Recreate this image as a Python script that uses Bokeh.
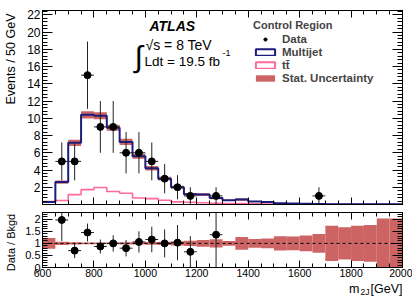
import math
from bokeh.plotting import figure
from bokeh.layouts import column, row
from bokeh.models import (ColumnDataSource, Label, Legend, LegendItem, Span,
                          FixedTicker, LinearAxis, Range1d, CustomLabelingPolicy)
from bokeh.embed import file_html
from bokeh.resources import INLINE

# ---------------- data ----------------
bin_edges = [600, 650, 700, 750, 800, 850, 900, 950, 1000, 1050, 1100, 1150, 1200,
             1250, 1300, 1350, 1400, 1450, 1500, 1550, 1600, 1650, 1700, 1750,
             1800, 1850, 1900, 1950, 2000]
multijet = [0.28, 2.6, 7.15, 10.4, 10.3, 8.9, 7.25, 5.6, 4.2, 3.0,
            2.0, 1.2, 1.15, 0.75, 0.5, 0.57, 0.35, 0.3, 0.15, 0.13,
            0.08, 0.07, 0.04, 0.04, 0.03, 0.03, 0.03, 0.02]
ttbar = [0.35, 0.47, 1.15, 1.72, 1.97, 1.5, 1.3, 0.75, 0.68, 0.49,
         0.3, 0.26, 0.2, 0.15, 0.1, 0.1, 0.07, 0.06, 0.05, 0.04,
         0.03, 0.03, 0.02, 0.02, 0.02, 0.01, 0.01, 0.01]
stat_rel = [0.22, 0.07, 0.05, 0.04, 0.04, 0.04, 0.05, 0.05, 0.06, 0.07,
            0.09, 0.11, 0.14, 0.17, 0.1, 0.26, 0.18, 0.2, 0.3, 0.28,
            0.33, 0.39, 0.73, 0.67, 0.73, 0.76, 1.03, 1.03]
data_x = [675, 725, 775, 825, 875, 925, 975, 1025, 1075, 1125, 1175, 1275, 1675]
data_y = [5, 5, 15, 9, 9, 6, 6, 5, 3, 2, 1, 1, 1]
data_err = [2.2, 2.2, 3.9, 3.0, 3.0, 2.4, 2.4, 2.2, 1.7, 1.4, 1.0, 1.0, 1.0]
ratio_x = [675, 725, 775, 825, 875, 925, 975, 1025, 1075, 1125, 1175, 1275]
ratio_y = [1.97, 0.70, 1.45, 0.87, 1.0, 0.80, 1.06, 1.16, 1.0, 1.03, 0.65, 1.36]
ratio_err = [0.87, 0.31, 0.37, 0.29, 0.34, 0.34, 0.44, 0.53, 0.58, 0.73, 0.65, 1.36]
x_ticks = [600, 800, 1000, 1200, 1400, 1600, 1800, 2000]
y_ticks_top = [2, 4, 6, 8, 10, 12, 14, 16, 18, 20, 22]
y_ticks_ratio = [0, 0.5, 1, 1.5, 2]

# ---------------- style ----------------
FONT = "Liberation Sans"
NAVY = "#1c1c7c"
PINK = "#ff6a9a"
BAND = "#cc6464"
ERRC = "#222222"
HALF_BIN = 25
NAN = float("nan")

y_minor_top = [round(0.4 * i, 1) for i in range(1, 57)]
y_minor_ratio = [round(0.1 * i, 1) for i in range(0, 23)]

def style_fig(p):
    p.xgrid.visible = False
    p.ygrid.visible = False
    p.outline_line_color = "black"
    p.outline_line_width = 1
    p.background_fill_color = "white"
    p.border_fill_color = "white"

def style_axis(ax, ticks, minor, major_len, minor_len, show_labels, font_size="12px",
               standoff=2):
    ax.ticker = FixedTicker(ticks=ticks, minor_ticks=minor)
    ax.major_tick_in = major_len
    ax.major_tick_out = 0
    ax.minor_tick_in = minor_len
    ax.minor_tick_out = 0
    ax.axis_line_color = "black"
    ax.major_tick_line_color = "black"
    ax.minor_tick_line_color = "black"
    ax.major_label_text_font = FONT
    ax.major_label_text_color = "black"
    if show_labels:
        ax.major_label_text_font_size = font_size
        ax.major_label_standoff = standoff
    else:
        ax.major_label_policy = CustomLabelingPolicy(code="return new Set()")
        ax.major_label_text_font_size = "1px"
        ax.major_label_standoff = 0

def text_fig(w, h):
    f = figure(width=w, height=h, x_range=Range1d(0, w), y_range=Range1d(0, h),
               x_axis_type=None, y_axis_type=None, output_backend="svg",
               toolbar_location=None, min_border=0)
    f.outline_line_color = None
    f.background_fill_color = "white"
    f.border_fill_color = "white"
    return f

# texts in canvas units (pixels from the canvas top-left)
def lab(fig, text, x, y, size, style="normal", align="left", baseline="middle", angle=0.0):
    fig.add_layout(Label(x=x, y=y, x_units="canvas", y_units="canvas", text=text,
                         text_font=FONT, text_font_size=size, text_font_style=style,
                         text_align=align, text_baseline=baseline, angle=angle,
                         text_color="black"))

x_range = Range1d(600, 2000)
LEFT_W = 20
MAIN_W = 392

# ---------------- top panel (page: frame x 42..402, y 10..208) ----------------
p = figure(width=MAIN_W, height=208, x_range=x_range, y_range=Range1d(0, 22.5),
           output_backend="svg", toolbar_location=None,
           min_border_left=42 - LEFT_W, min_border_right=10, min_border_top=10,
           min_border_bottom=0)
style_fig(p)
style_axis(p.xaxis[0], x_ticks, bin_edges, 7, 4, False)
style_axis(p.yaxis[0], y_ticks_top, y_minor_top, 10, 5, True, "12px")
ax_top = LinearAxis()
style_axis(ax_top, x_ticks, bin_edges, 7, 4, False)
p.add_layout(ax_top, "above")
ax_right = LinearAxis()
style_axis(ax_right, y_ticks_top, y_minor_top, 10, 5, False)
p.add_layout(ax_right, "right")

lefts = bin_edges[:-1]
rights = bin_edges[1:]
band_src = ColumnDataSource(dict(
    left=lefts, right=rights,
    bottom=[m * (1 - r) for m, r in zip(multijet, stat_rel)],
    top=[m * (1 + r) for m, r in zip(multijet, stat_rel)]))
r_band = p.quad(left="left", right="right", bottom="bottom", top="top", source=band_src,
                fill_color=BAND, line_color=None)

p.step(x=bin_edges, y=ttbar + [ttbar[-1]], mode="after", line_color=PINK, line_width=1.6)
p.step(x=bin_edges, y=multijet + [multijet[-1]], mode="after", line_color=NAVY, line_width=2)

dsrc = ColumnDataSource(dict(
    x=data_x, y=data_y,
    lo=[y - e for y, e in zip(data_y, data_err)],
    hi=[y + e for y, e in zip(data_y, data_err)],
    xl=[x - HALF_BIN for x in data_x], xr=[x + HALF_BIN for x in data_x]))
p.segment(x0="x", y0="lo", x1="x", y1="hi", source=dsrc, line_color=ERRC, line_width=1)
p.segment(x0="xl", y0="y", x1="xr", y1="y", source=dsrc, line_color=ERRC, line_width=1)
r_data = p.scatter(x="x", y="y", source=dsrc, size=7, marker="circle",
                   fill_color="black", line_color="black")

# legend-only glyphs (nothing is drawn in the plot: NaN coordinates)
r_mj_leg = p.quad(left=[NAN], right=[NAN], bottom=[NAN], top=[NAN], fill_alpha=0,
                  line_color=NAVY, line_width=2)
r_tt_leg = p.quad(left=[NAN], right=[NAN], bottom=[NAN], top=[NAN], fill_alpha=0,
                  line_color=PINK, line_width=2)

legend = Legend(items=[
    LegendItem(label="Data", renderers=[r_data]),
    LegendItem(label="Multijet", renderers=[r_mj_leg]),
    LegendItem(label="tt\u0304", renderers=[r_tt_leg]),
    LegendItem(label="Stat. Uncertainty", renderers=[r_band]),
], location=(211, 120), title="Control Region",
    label_text_font=FONT, label_text_font_style="bold", label_text_font_size="11.5px",
    title_text_font=FONT, title_text_font_style="bold", title_text_font_size="11px",
    background_fill_alpha=0, border_line_alpha=0, padding=0, margin=0, spacing=1,
    glyph_width=24, glyph_height=8, label_height=8, label_standoff=5, title_standoff=2)
p.add_layout(legend)

# canvas x = page x - LEFT_W
lab(p, "ATLAS", 149 - LEFT_W, 25, "14px", "bold italic")
lab(p, "\u222B", 134 - LEFT_W, 56, "30px")
lab(p, "\u221As = 8 TeV", 145 - LEFT_W, 44, "14px")
lab(p, "Ldt = 19.5 fb", 144 - LEFT_W, 61, "13.5px")
lab(p, "-1", 222 - LEFT_W, 52, "9px")

# ---------------- ratio panel (page: frame y 208..267) ----------------
q = figure(width=MAIN_W, height=72, x_range=x_range, y_range=Range1d(0, 2.28),
           output_backend="svg", toolbar_location=None,
           min_border_left=42 - LEFT_W, min_border_right=10, min_border_top=0,
           min_border_bottom=13)
style_fig(q)
style_axis(q.xaxis[0], x_ticks, bin_edges, 7, 4, True, "10.5px", standoff=1)
style_axis(q.yaxis[0], y_ticks_ratio, y_minor_ratio, 10, 5, True, "11px")
q.yaxis[0].major_label_overrides = {0: "0", 0.5: "0.5", 1: "1", 1.5: "1.5", 2: "2"}
qa_top = LinearAxis()
style_axis(qa_top, x_ticks, bin_edges, 7, 4, False)
q.add_layout(qa_top, "above")
qa_right = LinearAxis()
style_axis(qa_right, y_ticks_ratio, y_minor_ratio, 10, 5, False)
q.add_layout(qa_right, "right")

rband_src = ColumnDataSource(dict(
    left=lefts, right=rights,
    bottom=[1 - r for r in stat_rel], top=[1 + r for r in stat_rel]))
q.quad(left="left", right="right", bottom="bottom", top="top", source=rband_src,
       fill_color=BAND, line_color=None)
q.add_layout(Span(location=1, dimension="width", line_color="black",
                  line_width=1, line_dash="3 3"))

rsrc = ColumnDataSource(dict(
    x=ratio_x, y=ratio_y,
    lo=[y - e for y, e in zip(ratio_y, ratio_err)],
    hi=[y + e for y, e in zip(ratio_y, ratio_err)],
    xl=[x - HALF_BIN for x in ratio_x], xr=[x + HALF_BIN for x in ratio_x]))
q.segment(x0="x", y0="lo", x1="x", y1="hi", source=rsrc, line_color=ERRC, line_width=1)
q.segment(x0="xl", y0="y", x1="xr", y1="y", source=rsrc, line_color=ERRC, line_width=1)
q.scatter(x="x", y="y", source=rsrc, size=7, marker="circle",
          fill_color="black", line_color="black")

# ---------------- axis titles (separate text strips) ----------------
left_strip = text_fig(LEFT_W, 298)
lab(left_strip, "Events / 50 GeV", 10, 13, "12.5px", align="right", angle=math.pi / 2)
lab(left_strip, "Data / Bkgd", 10, 242, "11px", align="center", angle=math.pi / 2)

bottom_strip = text_fig(MAIN_W, 18)   # page y 280..298
lab(bottom_strip, "[GeV]", 402 - LEFT_W, 8, "12.5px", align="right")
lab(bottom_strip, "2J", 369 - LEFT_W, 11, "8.5px", align="right")
lab(bottom_strip, "m", 359 - LEFT_W, 8, "12.5px", align="right")

layout = row(left_strip, column(p, q, bottom_strip, spacing=0), spacing=0)
open("out.html", "w").write(file_html(layout, INLINE))
